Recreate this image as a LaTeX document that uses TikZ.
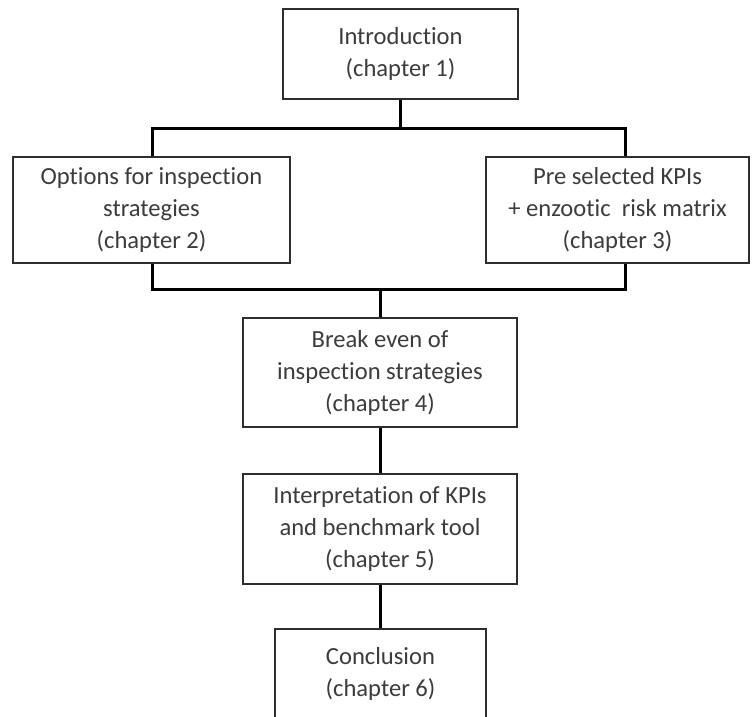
\documentclass[tikz,border=0pt]{standalone}
\usepackage{fontspec}
\setmainfont{Carlito}[Ligatures=NoCommon]
\definecolor{boxline}{HTML}{2E2E2E}
\definecolor{chaptext}{HTML}{3C3C3C}
\begin{document}
\begin{tikzpicture}[x=1pt,y=-1pt,
  chapbox/.style={draw=boxline, line width=1.4pt, fill=white, text=chaptext,
    align=center, inner sep=0pt, font=\fontsize{24.6}{32}\selectfont},
  link/.style={line width=3pt, draw=black, line join=miter}]
\useasboundingbox (0,0) rectangle (752,716);
\clip (0,0) rectangle (752,716);

% chapter boxes
\node[chapbox, minimum width=235pt, minimum height=90pt] (intro) at (400.5,54)
  {Introduction\\(chapter 1)};
\node[chapbox, minimum width=277pt, minimum height=106pt] (options) at (151.5,210)
  {Options for inspection\\strategies\\(chapter 2)};
\node[chapbox, minimum width=263pt, minimum height=106pt] (kpis) at (617.5,210)
  {Pre selected KPIs\\+ enzootic~ risk matrix\\(chapter 3)};
\node[chapbox, minimum width=274pt, minimum height=109pt] (breakeven) at (380,372.5)
  {Break even of\\inspection strategies\\(chapter 4)};
\node[chapbox, minimum width=274pt, minimum height=110pt] (interp) at (380,529)
  {Interpretation of KPIs\\and benchmark tool\\(chapter 5)};
\node[chapbox, minimum width=211pt, minimum height=90pt] (concl) at (380.5,674)
  {Conclusion\\(chapter 6)};

% bus corners
\coordinate (topL) at (152,128);
\coordinate (topR) at (625,128);
\coordinate (botL) at (152,289.5);
\coordinate (botR) at (625,289.5);

% connectors
\draw[link] (intro.south) -- (intro.south |- topL);
\draw[link] (options.north -| topL) -- (topL) -- (topR) -- (kpis.north -| topR);
\draw[link] (options.south -| botL) -- (botL) -- (botR) -- (kpis.south -| botR);
\draw[link] (breakeven.north |- botL) -- (breakeven.north);
\draw[link] (breakeven.south) -- (interp.north);
\draw[link] (interp.south) -- (interp.south |- concl.north);
\end{tikzpicture}
\end{document}
